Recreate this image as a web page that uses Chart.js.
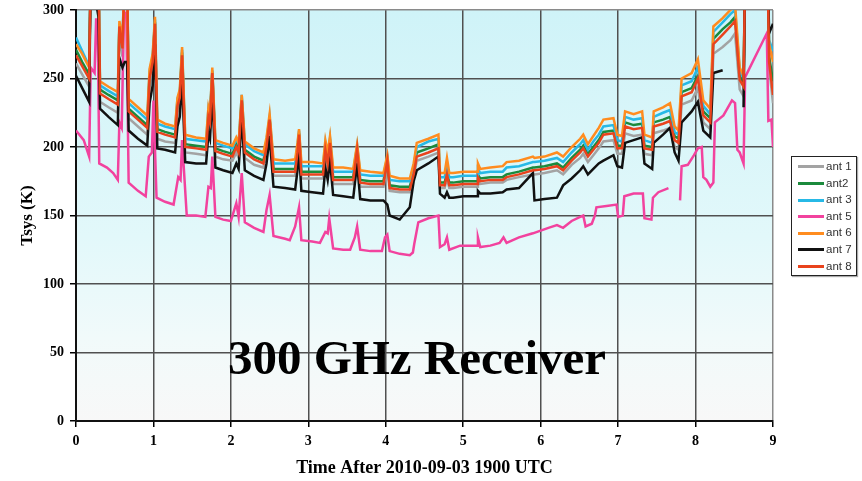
<!DOCTYPE html>
<html>
<head>
<meta charset="utf-8">
<title>300 GHz Receiver Tsys</title>
<script src="https://cdn.jsdelivr.net/npm/chart.js@4.4.1/dist/chart.umd.min.js"></script>
<style>
  html, body { margin: 0; padding: 0; background: #fff; }
  #wrap { position: relative; width: 862px; height: 481px; }
  #banner {
    position: absolute; left: 0; top: 333px; width: 834px;
    text-align: center; font: bold 49px/49px "Liberation Serif", serif; color: #000;
  }
  #legend {
    position: absolute; left: 791px; top: 156px; width: 64px; height: 117px;
    border: 1.5px solid #222; background: #fff; padding-top: 1px;
    box-shadow: 1px 1px 1px #aaa;
    font: 11.5px "Liberation Sans", Arial, sans-serif; color: #333;
  }
  #legend div { height: 16.6px; line-height: 16.6px; white-space: nowrap; }
  #legend span.sw { display: inline-block; width: 26px; height: 3px; margin: 0 2px 0 6px; vertical-align: middle; }
</style>
</head>
<body>
<div id="wrap">
  <canvas id="tsys" width="862" height="481"></canvas>
  <div id="banner">300 GHz Receiver</div>
  <div id="legend"></div>
</div>
<script>
// Tsys per antenna (hours after 2010-09-03 1900 UTC)
// values above 300 just run off the top of the plot
const times = [
  0, 0.08, 0.17, 0.19, 0.29, 0.31, 0.42, 0.54, 0.56, 0.60,
  0.63, 0.66, 0.68, 0.80, 0.92, 0.95, 0.99, 1.02, 1.05, 1.15,
  1.28, 1.31, 1.34, 1.37, 1.41, 1.55, 1.68, 1.71, 1.73, 1.76,
  1.80, 1.90, 2.02, 2.07, 2.10, 2.14, 2.18, 2.30, 2.42, 2.46,
  2.50, 2.55, 2.70, 2.83, 2.86, 2.88, 2.91, 3.05, 3.19, 3.22,
  3.25, 3.28, 3.32, 3.45, 3.58, 3.63, 3.67, 3.80, 3.97, 4.02,
  4.05, 4.18, 4.31, 4.36, 4.40, 4.55, 4.68, 4.70, 4.76, 4.79,
  4.82, 4.87, 5.00, 5.18, 5.19, 5.22, 5.35, 5.51, 5.56, 5.72,
  5.90, 5.92, 6.05, 6.21, 6.29, 6.40, 6.51, 6.55, 6.61, 6.68,
  6.75, 6.81, 6.94, 6.99, 7.05, 7.09, 7.20, 7.31, 7.34, 7.44,
  7.46, 7.58, 7.67, 7.73, 7.78, 7.82, 7.95, 8.03, 8.10, 8.19,
  8.23, 8.35, 8.45, 8.51, 8.57, 8.62, 8.64, 8.93, 8.95, 9.00
];

const ant1 = [
  261, 253, 244, 330, 330, 233, 229, 225, 282, 266,
  330, 330, 221, 215, 209, 244, 256, 285, 206, 204,
  203, 225, 231, 262, 196, 195, 194, 217, 213, 249,
  193, 191, 190, 196, 192, 229, 192, 187, 185, 196,
  216, 179, 179, 179, 193, 205, 177, 177, 177, 194,
  185, 199, 173, 173, 173, 195, 171, 171, 171, 187,
  168, 167, 167, 178, 190, 193, 196, 170, 170, 177,
  170, 170, 171, 171, 175, 173, 174, 174, 176, 178,
  180, 180, 181, 183, 180, 187, 192, 195, 189, 194,
  199, 204, 205, 195, 195, 210, 208, 209, 195, 194,
  210, 212, 214, 200, 198, 231, 234, 243, 218, 213,
  268, 273, 278, 283, 242, 237, 330, 330, 258, 232
];

const ant2 = [
  271, 262, 253, 330, 330, 242, 238, 234, 289, 274,
  330, 330, 228, 222, 216, 252, 264, 291, 213, 211,
  209, 232, 238, 269, 202, 201, 200, 224, 220, 255,
  199, 197, 195, 202, 198, 235, 198, 193, 190, 201,
  221, 184, 184, 184, 198, 210, 182, 182, 182, 200,
  190, 204, 178, 178, 178, 199, 176, 175, 175, 191,
  172, 171, 171, 182, 196, 199, 202, 174, 174, 181,
  174, 174, 175, 175, 180, 177, 178, 178, 180, 182,
  185, 185, 186, 188, 185, 192, 198, 201, 195, 200,
  205, 211, 212, 201, 201, 218, 216, 217, 201, 200,
  218, 220, 222, 208, 206, 240, 243, 252, 226, 221,
  279, 286, 291, 295, 252, 247, 330, 330, 266, 248
];

const ant3 = [
  280, 270, 259, 330, 330, 245, 241, 237, 290, 277,
  330, 330, 232, 226, 220, 255, 266, 293, 217, 215,
  213, 235, 240, 271, 206, 205, 204, 228, 224, 256,
  203, 201, 199, 206, 202, 238, 202, 197, 194, 205,
  222, 188, 188, 188, 201, 212, 186, 186, 186, 203,
  193, 206, 182, 182, 182, 201, 180, 179, 179, 193,
  176, 175, 175, 186, 200, 204, 206, 178, 178, 186,
  178, 178, 179, 179, 184, 181, 182, 182, 185, 186,
  189, 189, 190, 192, 189, 196, 202, 205, 198, 204,
  209, 215, 216, 205, 204, 222, 220, 221, 205, 203,
  222, 225, 227, 211, 209, 245, 248, 258, 230, 224,
  284, 291, 297, 300, 256, 250, 330, 330, 278, 270
];

const ant6 = [
  275, 268, 258, 330, 330, 248, 244, 240, 292, 279,
  330, 330, 235, 229, 223, 257, 268, 295, 220, 217,
  215, 236, 242, 273, 209, 207, 206, 229, 224, 258,
  205, 203, 201, 207, 203, 238, 204, 199, 196, 207,
  224, 191, 190, 191, 203, 213, 189, 189, 188, 205,
  196, 208, 185, 185, 184, 202, 183, 182, 181, 194,
  179, 177, 177, 188, 203, 206, 209, 181, 181, 192,
  181, 181, 182, 182, 188, 184, 185, 186, 189, 190,
  193, 192, 193, 196, 193, 200, 206, 209, 202, 208,
  214, 220, 221, 209, 208, 226, 224, 226, 209, 207,
  226, 229, 232, 215, 212, 250, 254, 264, 234, 228,
  288, 294, 300, 304, 258, 252, 330, 330, 275, 262
];

const ant7 = [
  252, 243, 233, 330, 295, 228, 222, 216, 265, 258,
  262, 262, 212, 206, 201, 232, 245, 275, 199, 198,
  196, 215, 222, 250, 189, 188, 188, 210, 206, 240,
  185, 183, 181, 188, 184, 222, 183, 179, 176, 188,
  208, 171, 170, 169, 183, 198, 168, 167, 166, 185,
  176, 190, 165, 164, 163, 188, 162, 161, 161, 158,
  150, 147, 156, 175, 183, 188, 193, 166, 163, 167,
  163, 163, 164, 164, 168, 166, 166, 167, 169, 170,
  181, 161, 162, 163, 172, 177, 183, 186, 180, 184,
  188, 190, 194, 186, 185, 203, 205, 207, 188, 184,
  203, 209, 214, 196, 190, 218, 226, 233, 212, 207,
  254, 256, null, null, null, 229, 330, 330, 283, 290
];

const ant8 = [
  267, 259, 250, 330, 330, 239, 235, 231, 288, 272,
  330, 330, 226, 220, 214, 250, 262, 290, 211, 209,
  207, 230, 236, 267, 200, 199, 198, 222, 218, 254,
  197, 195, 193, 200, 196, 234, 196, 191, 188, 200,
  220, 182, 182, 182, 196, 209, 180, 180, 180, 198,
  188, 203, 176, 176, 176, 198, 174, 173, 173, 190,
  170, 169, 169, 180, 193, 196, 199, 172, 172, 180,
  172, 172, 173, 173, 178, 175, 176, 176, 178, 180,
  183, 183, 184, 186, 183, 190, 196, 199, 193, 198,
  203, 209, 210, 199, 199, 215, 213, 214, 199, 198,
  215, 217, 219, 205, 203, 237, 240, 250, 223, 218,
  275, 282, 288, 292, 249, 244, 330, 330, 262, 238
];

// ant 5 sits much lower and has its own sample times (gap near 7.7 h)
const ant5Times = [
  0.00, 0.10, 0.17, 0.19, 0.24, 0.26, 0.28, 0.30, 0.40, 0.48,
  0.54, 0.56, 0.59, 0.62, 0.65, 0.68, 0.80, 0.90, 0.94, 0.98,
  1.00, 1.04, 1.15, 1.26, 1.32, 1.35, 1.37, 1.43, 1.55, 1.67,
  1.71, 1.74, 1.76, 1.80, 1.90, 2.00, 2.07, 2.10, 2.14, 2.18,
  2.30, 2.42, 2.46, 2.50, 2.55, 2.70, 2.76, 2.83, 2.88, 2.91,
  3.05, 3.15, 3.22, 3.25, 3.27, 3.32, 3.45, 3.54, 3.60, 3.63,
  3.67, 3.80, 3.95, 3.99, 4.02, 4.05, 4.18, 4.31, 4.35, 4.37,
  4.42, 4.55, 4.68, 4.70, 4.76, 4.79, 4.82, 4.96, 5.18, 5.19,
  5.22, 5.35, 5.47, 5.52, 5.56, 5.72, 5.90, 6.00, 6.10, 6.21,
  6.29, 6.40, 6.51, 6.55, 6.58, 6.66, 6.70, 6.72, 6.85, 6.98,
  7.00, 7.06, 7.08, 7.20, 7.32, 7.34, 7.43, 7.45, 7.52, 7.65,
  7.72, 7.80, 7.82, 7.90, 7.98, 8.03, 8.08, 8.10, 8.14, 8.19,
  8.23, 8.25, 8.36, 8.47, 8.51, 8.54, 8.57, 8.62, 8.64, 8.92,
  8.94, 8.98, 9.00
];
const ant5 = [
  212, 205, 193, 258, 254, 293, 293, 188, 185, 181,
  176, 218, 214, 298, 298, 174, 168, 164, 193, 196,
  234, 163, 160, 158, 178, 176, 205, 150, 150, 149,
  171, 170, 193, 149, 147, 146, 159, 149, 181, 145,
  141, 138, 154, 165, 135, 133, 132, 142, 156, 132,
  131, 130, 138, 137, 148, 126, 125, 125, 134, 142,
  125, 124, 124, 134, 136, 124, 122, 121, 123, 130,
  145, 148, 150, 127, 129, 134, 125, 128, 128, 134,
  127, 128, 130, 134, 130, 134, 137, 139, 141, 143,
  141, 146, 149, 150, 142, 144, 150, 156, 157, 158,
  149, 150, 164, 166, 166, 148, 147, 163, 167, 170,
  null, 161, 186, 187, 194, 199, 200, 178, 176, 171,
  174, 218, 223, 234, 232, 198, 196, 188, 251, 283,
  219, 220, 200
];

const seriesNames = ['ant 1', 'ant2', 'ant 3', 'ant 5', 'ant 6', 'ant 7', 'ant 8'];
const seriesColors = ['#a3a3a3', '#1b8a3c', '#27b9e6', '#f2429e', '#ff8c1f', '#111111', '#e9431d'];

const pts = (xs, ys) => xs.map((x, i) => ({ x: x, y: ys[i] }));
const seriesData = [
  pts(times, ant1), pts(times, ant2), pts(times, ant3), pts(ant5Times, ant5),
  pts(times, ant6), pts(times, ant7), pts(times, ant8)
];

// later series sit on top, like the original spreadsheet chart
const datasets = seriesNames.map((name, i) => ({
  label: name,
  data: seriesData[i],
  borderColor: seriesColors[i],
  backgroundColor: seriesColors[i],
  borderWidth: 2.5,
  pointRadius: 0,
  tension: 0,
  spanGaps: false,
  order: seriesNames.length - i
}));

// plot area background: pale cyan fading to near white
const plotBackground = {
  id: 'plotBackground',
  beforeDraw(chart) {
    const { ctx, chartArea: a } = chart;
    ctx.save();
    ctx.fillStyle = '#ffffff';
    ctx.fillRect(0, 0, chart.width, chart.height);
    const g = ctx.createLinearGradient(0, a.top, 0, a.bottom);
    g.addColorStop(0, '#cff3f8');
    g.addColorStop(0.55, '#e2f8fa');
    g.addColorStop(0.8, '#f1fafa');
    g.addColorStop(1, '#f8f8f8');
    ctx.fillStyle = g;
    ctx.fillRect(a.left, a.top, a.right - a.left, a.bottom - a.top);
    ctx.restore();
  }
};

const tickFont = { family: '"Liberation Serif", serif', size: 14, weight: 'bold' };
const titleFont = { family: '"Liberation Serif", serif', size: 18, weight: 'bold' };

new Chart(document.getElementById('tsys').getContext('2d'), {
  type: 'line',
  data: { datasets: datasets },
  options: {
    responsive: false,
    animation: false,
    layout: { padding: { top: 10, right: 89, left: 0, bottom: 0 } },
    plugins: {
      legend: { display: false },
      tooltip: { enabled: false }
    },
    scales: {
      x: {
        type: 'linear',
        min: 0,
        max: 9,
        afterFit: (s) => { s.height = 60; },
        ticks: { stepSize: 1, color: '#000', font: tickFont, padding: 6, maxRotation: 0, autoSkip: false },
        grid: {
          color: (c) => (c.tick && c.tick.value === 9 ? '#8a8a8a' : '#505050'),
          lineWidth: 1.5,
          tickLength: 6,
          tickColor: '#000'
        },
        border: { color: '#111', width: 2 },
        title: { display: true, text: 'Time After 2010-09-03 1900 UTC', color: '#000', font: titleFont, padding: { top: 0, bottom: 2 } }
      },
      y: {
        min: 0,
        max: 300,
        afterFit: (s) => { s.width = 76; s.paddingTop = 0; s.paddingBottom = 0; },
        ticks: { stepSize: 50, color: '#000', font: tickFont, padding: 6 },
        grid: {
          color: (c) => (c.tick && c.tick.value === 300 ? '#8a8a8a' : '#505050'),
          lineWidth: 1.5,
          tickLength: 6,
          tickColor: '#000'
        },
        border: { color: '#111', width: 2 },
        title: { display: true, text: 'Tsys (K)', color: '#000', font: { family: '"Liberation Serif", serif', size: 17, weight: 'bold' }, padding: { top: 17, bottom: 0 } }
      }
    }
  },
  plugins: [plotBackground]
});

// boxed legend at the right, as in the original
const legendBox = document.getElementById('legend');
seriesNames.forEach((name, i) => {
  const row = document.createElement('div');
  const sw = document.createElement('span');
  sw.className = 'sw';
  sw.style.background = seriesColors[i];
  row.appendChild(sw);
  row.appendChild(document.createTextNode(name));
  legendBox.appendChild(row);
});
</script>
</body>
</html>
